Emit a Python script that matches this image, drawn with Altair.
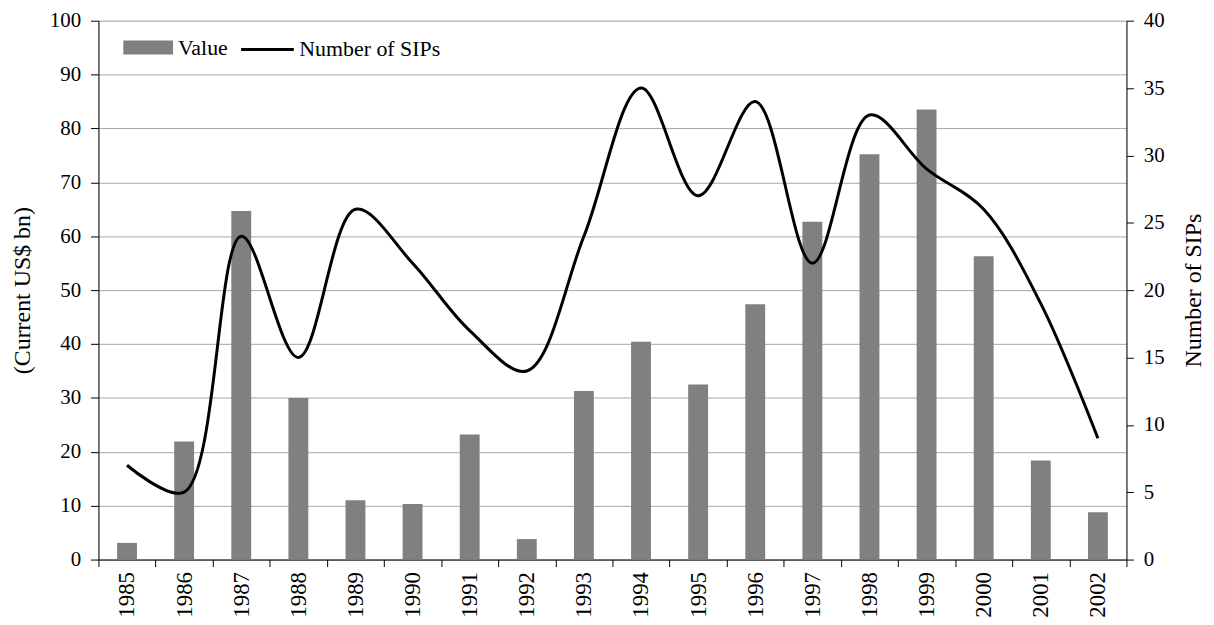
import altair as alt
import pandas as pd

years = [str(y) for y in range(1985, 2003)]
values = [3.1, 21.9, 64.7, 30.0, 11.0, 10.3, 23.2, 3.8, 31.3, 40.4, 32.5, 47.4, 62.7, 75.2, 83.5, 56.3, 18.4, 8.8]
sips = [7, 5, 24, 15, 26, 22, 17, 14, 24, 35, 27, 34, 22, 33, 29, 26, 19, 9]

df = pd.DataFrame({"year": years, "value": values, "sips": sips,
                   "s1": ["Value"] * len(years), "s2": ["Number of SIPs"] * len(years)})

FONT = "Liberation Serif"
FS = 21
TFS = 24

x = alt.X("year:N", sort=years, title=None,
          scale=alt.Scale(paddingInner=0, paddingOuter=0),
          axis=alt.Axis(labelAngle=270, labelFont=FONT, labelFontSize=23, labelColor="black",
                        tickBand="extent", tickSize=7, tickColor="black", domainColor="black",
                        labelPadding=5, labelBaseline="middle", labelAlign="right"))

bars = alt.Chart(df).mark_bar(size=20).encode(
    x=x,
    y=alt.Y("value:Q", title="(Current US$ bn)",
            scale=alt.Scale(domain=[0, 100], nice=False),
            axis=alt.Axis(values=list(range(0, 101, 10)), labelFont=FONT, labelFontSize=FS,
                          labelColor="black", titleFont=FONT, titleFontSize=TFS, titleFontWeight="normal",
                          titleColor="black", titlePadding=15, tickSize=8, tickColor="black",
                          labelPadding=10, domainColor="black", gridColor="#a6a6a6", grid=True)),
    color=alt.Color("s1:N", scale=alt.Scale(domain=["Value"], range=["#808080"]),
                    legend=alt.Legend(title=None, orient="none", legendX=24, legendY=1,
                                      symbolType="M-1,-0.28H1V0.28H-1Z", symbolSize=2500,
                                      symbolOpacity=1, labelFont=FONT, labelFontSize=22,
                                      labelColor="black", padding=0)),
)

line = alt.Chart(df).mark_line(interpolate="catmull-rom", strokeWidth=3).encode(
    x=x,
    y=alt.Y("sips:Q", title="Number of SIPs",
            scale=alt.Scale(domain=[0, 40], nice=False),
            axis=alt.Axis(orient="right", values=list(range(0, 41, 5)), labelFont=FONT, labelFontSize=FS,
                          labelColor="black", titleFont=FONT, titleFontSize=TFS, titleFontWeight="normal",
                          titleColor="black", titlePadding=17, titleAngle=270, titleBaseline="top",
                          tickSize=7, tickColor="black",
                          labelPadding=10, domainColor="black", grid=False)),
    stroke=alt.Stroke("s2:N", scale=alt.Scale(domain=["Number of SIPs"], range=["black"]),
                      legend=alt.Legend(title=None, orient="none", legendX=142, legendY=1,
                                        symbolType="stroke", symbolSize=2809, symbolStrokeWidth=3,
                                        labelFont=FONT, labelFontSize=22, labelColor="black", padding=0)),
)

chart = alt.layer(bars, line).resolve_scale(y="independent", color="independent").properties(
    width=1034, height=542,
    autosize=alt.AutoSizeParams(type="none"),
    padding={"left": 91, "top": 11, "right": 80, "bottom": 56},
).configure_view(stroke=None).configure_axis(domainWidth=1.5).configure(font=FONT)

chart.save("out.html", embed_options={"renderer": "svg", "actions": False})
